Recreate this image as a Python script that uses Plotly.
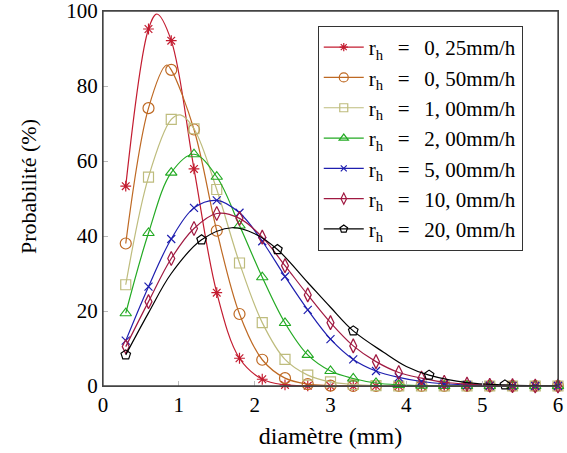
import plotly.graph_objects as go

# diameters (mm) where marks are placed
X = [0.3, 0.6, 0.9, 1.2, 1.5, 1.8, 2.1, 2.4, 2.7, 3.0,
     3.3, 3.6, 3.9, 4.2, 4.5, 4.8, 5.1, 5.4, 5.7, 6.0]

r025 = [53.3, 95.2, 92.1, 57.9, 24.9, 7.4, 1.8, 0.3, 0.05, 0.0,
        0.0, 0.0, 0.0, 0.0, 0.0, 0.0, 0.0, 0.0, 0.0, 0.0]
r050 = [38.0, 74.1, 84.3, 68.4, 41.4, 19.2, 7.0, 2.1, 0.5, 0.1,
        0.0, 0.0, 0.0, 0.0, 0.0, 0.0, 0.0, 0.0, 0.0, 0.0]
r100 = [27.0, 55.7, 71.1, 68.6, 52.4, 32.8, 16.9, 7.1, 2.9, 1.1,
        0.4, 0.1, 0.0, 0.0, 0.0, 0.0, 0.0, 0.0, 0.0, 0.0]
r200 = [19.4, 40.8, 56.9, 61.8, 55.8, 42.8, 29.0, 16.8, 8.3, 4.0,
        2.0, 0.8, 0.3, 0.1, 0.0, 0.0, 0.0, 0.0, 0.0, 0.0]
r500 = [12.1, 26.5, 39.2, 47.5, 49.5, 46.2, 38.6, 29.2, 20.3, 12.5,
        7.1, 4.0, 2.3, 1.2, 0.6, 0.3, 0.1, 0.05, 0.0, 0.0]
r1000 = [10.5, 22.5, 34.0, 42.0, 46.0, 44.7, 39.7, 32.1, 24.3, 16.9,
         10.7, 6.5, 3.6, 2.1, 1.0, 0.5, 0.2, 0.1, 0.0, 0.0]

# extra curve samples read at the peaks (between marks)
peak_x = {"r025": 0.71, "r050": 0.84, "r100": 1.02}
peak_y = {"r025": 99.2, "r050": 85.6, "r100": 72.3}

# 20 mm/h curve (sampled points) and its mark positions
X20 = [0.3, 0.6, 0.9, 1.3, 1.7, 2.0, 2.3, 2.7, 3.0, 3.3, 3.7, 4.0, 4.3, 4.8, 5.3, 6.0]
r2000 = [8.3, 19.5, 30.0, 39.0, 42.2, 40.6, 36.4, 27.6, 21.0, 14.7, 9.0, 5.2, 2.9, 0.9, 0.3, 0.05]
marks20 = [0.3, 1.3, 2.3, 3.3, 4.3, 5.3]

rates = ["0, 25", "0, 50", "1, 00", "2, 00", "5, 00", "10, 0", "20, 0"]
names = ["r<sub>h</sub>\u2002\u2009=\u2002\u2009" + r + "mm/h" for r in rates]
colors = ["rgb(195,28,48)", "rgb(190,105,35)", "rgb(190,188,125)", "rgb(35,170,35)",
          "rgb(30,30,175)", "rgb(160,25,65)", "rgb(0,0,0)"]
symbols = ["asterisk-open", "circle-open", "square-open", "triangle-up-open",
           "x-thin-open", "diamond-tall-open", "pentagon-open"]
sizes = [9, 11, 10, 10, 8, 10, 10]

keys = ["r025", "r050", "r100", "r200", "r500", "r1000"]
series = [r025, r050, r100, r200, r500, r1000]

lines_x, lines_y, marks_x, marks_y = [], [], [], []
for k, ys in zip(keys, series):
    pts = list(zip(X, ys))
    if k in peak_x:
        pts.append((peak_x[k], peak_y[k]))
    pts.sort()
    lines_x.append([p[0] for p in pts])
    lines_y.append([p[1] for p in pts])
    marks_x.append(X)
    marks_y.append(ys)
lines_x.append(X20)
lines_y.append(r2000)
marks_x.append(marks20)
marks_y.append([r2000[X20.index(v)] for v in marks20])

fig = go.Figure()
for i in range(7):
    g = "g%d" % i
    fig.add_trace(go.Scatter(
        x=lines_x[i], y=lines_y[i], mode="lines", showlegend=False, legendgroup=g,
        line=dict(color=colors[i], width=1.2, shape="spline", smoothing=1.0),
        hoverinfo="skip", cliponaxis=False))
    fig.add_trace(go.Scatter(
        x=marks_x[i], y=marks_y[i], mode="markers", showlegend=False, legendgroup=g,
        marker=dict(symbol=symbols[i], size=sizes[i], color=colors[i],
                    line=dict(color=colors[i], width=1.2)),
        cliponaxis=False))
    fig.add_trace(go.Scatter(
        x=[None], y=[None], mode="lines+markers", name=names[i], legendgroup=g,
        line=dict(color=colors[i], width=1.2),
        marker=dict(symbol=symbols[i], size=sizes[i] - 2, color=colors[i],
                    line=dict(color=colors[i], width=1.2))))

font_family = "Liberation Serif"
fig.update_layout(
    width=567, height=453,
    margin=dict(l=103, r=9, t=11, b=67, autoexpand=False),
    paper_bgcolor="white", plot_bgcolor="white",
    font=dict(family=font_family, size=21, color="black"),
    showlegend=True,
    legend=dict(x=0.472, y=0.96, xanchor="left", yanchor="top",
                bgcolor="white", bordercolor="#333", borderwidth=1,
                font=dict(family=font_family, size=21),
                tracegroupgap=0, itemwidth=40),
    xaxis=dict(range=[0, 6], tickvals=[0, 1, 2, 3, 4, 5, 6],
               ticks="inside", ticklen=5, tickcolor="#bbb",
               showline=True, linecolor="#444", linewidth=1.3, mirror=True,
               showgrid=False, zeroline=False, automargin=False,
               ticklabeloverflow="allow",
               title=dict(text="diamètre (mm)", font=dict(size=24), standoff=10),
               tickfont=dict(size=21)),
    yaxis=dict(range=[0, 100], tickvals=[0, 20, 40, 60, 80, 100],
               ticks="inside", ticklen=5, tickcolor="#bbb",
               showline=True, linecolor="#444", linewidth=1.3, mirror=True,
               showgrid=False, zeroline=False, automargin=False,
               ticklabeloverflow="allow",
               tickfont=dict(size=21)),
    annotations=[dict(text="Probabilité (%)", textangle=-90, showarrow=False,
                      xref="paper", yref="paper", x=-0.165, y=0.533,
                      xanchor="center", yanchor="middle",
                      font=dict(family=font_family, size=22))],
    shapes=[dict(type="rect", xref="paper", yref="paper", x0=0, y0=0, x1=1, y1=1,
                 line=dict(color="#444", width=1.3), layer="above")],
)

fig.write_html("out.html", config={"displayModeBar": False},
               post_script="document.body.style.margin='0';document.body.style.overflow='hidden';")
